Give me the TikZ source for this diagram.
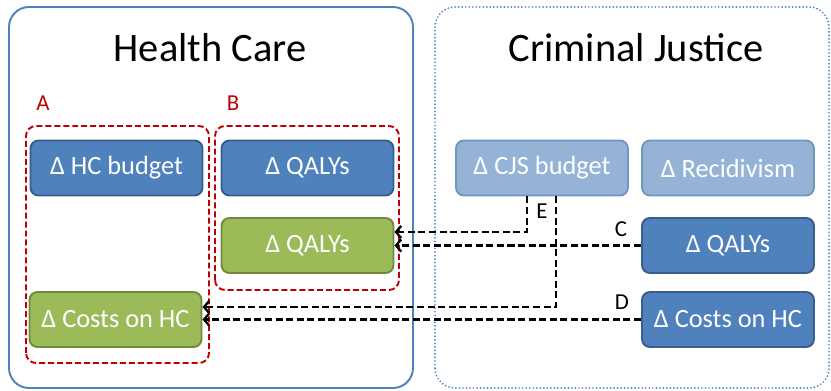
\documentclass[tikz,border=0pt]{standalone}
\usepackage{fontspec}
\setmainfont{Carlito}
\usetikzlibrary{arrows.meta}
\definecolor{offblue}{HTML}{4F81BD}
\definecolor{offblueline}{HTML}{385D8A}
\definecolor{offlight}{HTML}{95B3D7}
\definecolor{offlightline}{HTML}{7196C4}
\definecolor{offgreen}{HTML}{9BBB59}
\definecolor{offgreenline}{HTML}{71893F}
\definecolor{offred}{HTML}{C00000}
\tikzset{
  box/.style={rounded corners=0.16cm, line width=1.1pt, minimum width=3.44cm,
    minimum height=1.1cm, text=white, font=\fontsize{15}{18}\selectfont, inner sep=0pt},
  bluebox/.style={box, fill=offblue, draw=offblueline},
  lightbox/.style={box, fill=offlight, draw=offlightline},
  greenbox/.style={box, fill=offgreen, draw=offgreenline},
  link/.style={dashed, dash pattern=on 4pt off 2pt, line width=1.3pt,
    -{Straight Barb[length=3pt,width=7pt]}},
  letter/.style={font=\fontsize{13}{16}\selectfont}
}
\begin{document}
\begin{tikzpicture}
\useasboundingbox (0,0) rectangle (16.62,7.82);
% Health Care
\draw[offblue, line width=1.1pt, rounded corners=0.4cm] (0.18,0.06) rectangle (8.26,7.68);
\node (hctitle) at (4.2,6.86){\fontsize{23}{28}\selectfont Health Care};
% Criminal Justice
\draw[offblue, line width=1.1pt, line cap=round, dash pattern=on 0pt off 2pt,
  rounded corners=0.4cm] (8.70,0.06) rectangle (16.58,7.68);
\node (cjtitle) at (12.72,6.86){\fontsize{23}{28}\selectfont Criminal Justice};
% A et B
\draw[offred, line width=1.1pt, dash pattern=on 3.4pt off 1.7pt, rounded corners=0.2cm]
  (0.52,0.56) rectangle (4.18,5.30);
\node[offred, font=\fontsize{13}{16}\selectfont] (la) at (0.86,5.76){A};
\draw[offred, line width=1.1pt, dash pattern=on 3.4pt off 1.7pt, rounded corners=0.2cm]
  (4.30,2.02) rectangle (7.98,5.30);
\node[offred, font=\fontsize{13}{16}\selectfont] (lb) at (4.66,5.76){B};
% Noeuds HC
\node[bluebox] (hcbud) at (2.33,4.46){Δ HC budget};
\node[bluebox] (hcqaly) at (6.15,4.46){Δ QALYs};
\node[greenbox] (hcqalyg) at (6.15,2.91){Δ QALYs};
\node[greenbox] (hccost) at (2.31,1.43){Δ Costs on HC};
% Noeuds CJ
\node[lightbox] (cjsbud) at (10.84,4.46){Δ CJS budget};
\node[lightbox] (cjrecid) at (14.56,4.46){Δ Recidivism};
\node[bluebox] (cjqaly) at (14.56,2.91){Δ QALYs};
\node[bluebox] (cjcost) at (14.56,1.43){Δ Costs on HC};
% Liens
\draw[link] ([xshift=-0.30cm]cjsbud.south) |- ([yshift=0.27cm]hcqalyg.east);
\draw[link] (cjqaly.west) -- (hcqalyg.east);
\draw[link] ([xshift=0.28cm]cjsbud.south) |- ([yshift=0.25cm]hccost.east);
\draw[link] (cjcost.west) -- (hccost.east);
\node[letter] (le) at (10.84,3.60){E};
\node[letter] (lc) at (12.42,3.24){C};
\node[letter] (ld) at (12.44,1.78){D};
\end{tikzpicture}
\end{document}
